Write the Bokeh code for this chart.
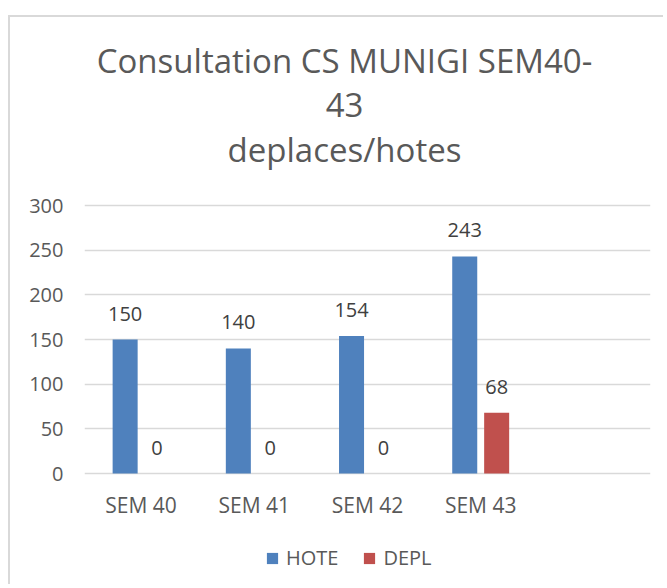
from bokeh.plotting import figure
from bokeh.models import (ColumnDataSource, FactorRange, LabelSet, Label, Legend, LegendItem,
                          Range1d, FixedTicker)
from bokeh.core.properties import value
from bokeh.transform import dodge
from bokeh.embed import file_html
from bokeh.resources import INLINE

# ---- data ----
categories = ["SEM 40", "SEM 41", "SEM 42", "SEM 43"]
axis_factors = ["SEM 40", "SEM 41", "SEM 42", "SEM 43", " "]
hote = [150, 140, 154, 243]
depl = [0, 0, 0, 68]
y_ticks = [0, 50, 100, 150, 200, 250, 300]
series_names = ["HOTE", "DEPL"]
title_lines = ["Consultation CS MUNIGI SEM40-", "43", "deplaces/hotes"]

FONT = "Open Sans"
TXT = "#595959"
BLUE = "#4F81BD"
RED = "#C0504D"
GRID = "#D9D9D9"

src = ColumnDataSource(dict(
    cat=categories, hote=hote, depl=depl,
    hote_lbl=[str(v) for v in hote], depl_lbl=[str(v) for v in depl],
))

# frame covers the whole canvas height; 300 units = 268 px
PX_PER_UNIT = 268 / 300
W, H = 655, 569
FRAME_TOP_TO_MAX = 188     # px from canvas top to the 300 line
ZERO_TO_BOTTOM = H - 456   # px from the 0 line to canvas bottom
y_start = -ZERO_TO_BOTTOM / PX_PER_UNIT
y_end = max(y_ticks) + FRAME_TOP_TO_MAX / PX_PER_UNIT

p = figure(x_range=FactorRange(factors=axis_factors, range_padding=0),
           y_range=Range1d(y_start, y_end),
           width=W, height=H, x_axis_location=None,
           output_backend="svg", toolbar_location=None,
           min_border_left=74, min_border_right=15, min_border_top=0,
           min_border_bottom=0)
p.title.visible = False
p.styles = {"margin-left": "8px", "margin-top": "15px",
            "border-left": "2px solid #D9D9D9", "border-top": "2px solid #D9D9D9"}

# title lines (screen units: from frame bottom-left, y upwards)
for line, yb in zip(title_lines, (526, 482, 437)):
    p.add_layout(Label(x=260, y=yb, x_units="screen", y_units="screen",
                       text=line, text_align="center", text_baseline="alphabetic",
                       text_font=FONT, text_font_size="33px", text_color=TXT))

off = 0.141
w = 0.221
r1 = p.vbar(x=dodge("cat", -off, range=p.x_range), top="hote", width=w,
            source=src, fill_color=BLUE, line_color=None)
r2 = p.vbar(x=dodge("cat", off, range=p.x_range), top="depl", width=w,
            source=src, fill_color=RED, line_color=None)

for fld, lbl, o in (("hote", "hote_lbl", -off), ("depl", "depl_lbl", off)):
    p.add_layout(LabelSet(x=dodge("cat", o, range=p.x_range), y=fld, text=lbl, source=src,
                          text_align="center", text_baseline="alphabetic", y_offset=19,
                          text_font=value(FONT), text_font_size=value("20px"),
                          text_color=value("#404040")))

# category labels under the baseline
p.add_layout(LabelSet(x="cat", y=0, text="cat", source=src, text_align="center",
                      text_baseline="alphabetic", y_offset=-39,
                      text_font=value(FONT), text_font_size=value("21px"),
                      text_color=value(TXT)))

# y axis + horizontal grid
ticker = FixedTicker(ticks=y_ticks)
p.yaxis.ticker = ticker
p.ygrid.ticker = ticker
p.yaxis.axis_line_color = None
p.yaxis.major_tick_line_color = None
p.yaxis.minor_tick_line_color = None
p.yaxis.major_tick_out = 0
p.yaxis.major_tick_in = 0
p.yaxis.major_label_standoff = 21
p.yaxis.major_label_text_font = FONT
p.yaxis.major_label_text_font_size = "20px"
p.yaxis.major_label_text_color = TXT

p.xgrid.grid_line_color = None
p.ygrid.grid_line_color = GRID
p.ygrid.grid_line_width = 1.5
p.outline_line_color = None

legend = Legend(items=[LegendItem(label=series_names[0], renderers=[r1]),
                       LegendItem(label=series_names[1], renderers=[r2])],
                orientation="horizontal", location=(181, 15),
                glyph_width=14, glyph_height=14, spacing=24, label_standoff=7,
                label_text_font=FONT, label_text_font_size="20px",
                label_text_color=TXT, border_line_color=None,
                background_fill_alpha=0, margin=0, padding=6)
p.add_layout(legend)

open("out.html", "w").write(file_html(p, INLINE))
